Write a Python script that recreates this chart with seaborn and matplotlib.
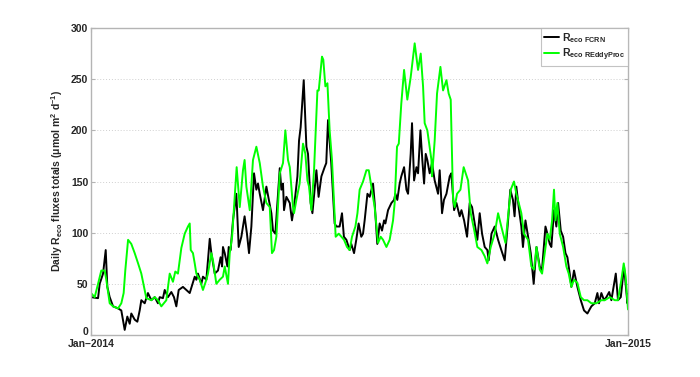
import numpy as np
import pandas as pd
import matplotlib
matplotlib.use("Agg")
import matplotlib.pyplot as plt
import matplotlib.transforms as mtransforms
import seaborn as sns

# ---- data (day offset from 2014-01-01, daily totals) ----
fcrn_day = [0, 4.8, 5.9, 8.2, 10.0, 11.1, 12.7, 15.0, 18.4, 20.6, 22.9, 24.7, 26.3, 27.4, 29.7,
            31.5, 33.1, 34.2, 36.5, 38.7, 41.0, 43.3, 45.5, 46.7, 48.9, 50.1, 52.3, 54.6, 56.4,
            58.0, 59.6, 62.5, 67.1, 70.5, 71.6, 72.7, 75.0, 76.1, 78.4, 80.7, 81.8, 84.1, 86.3,
            88.1, 89.1, 89.7, 90.9, 92.7, 93.6, 94.9, 96.5, 98.8, 100.4, 102.2, 104.4, 106.0,
            107.4, 109.0, 110.8, 112.4, 113.5, 114.7, 116.9, 119.2, 122.6, 123.7, 125.3, 128.3,
            129.4, 130.5, 131.2, 132.8, 135.1, 136.6, 138.0, 140.3, 141.4, 142.5, 144.6, 146.4,
            147.5, 149.3, 150.5, 153.2, 154.7, 156.6, 158.8, 159.9, 161.1, 163.3, 165.6, 166.8,
            169.0, 170.6, 171.9, 173.6, 175.8, 176.9, 178.8, 180.3, 181.9, 183.7, 184.9, 186.0,
            187.9, 189.4, 191.7, 192.8, 194.6, 196.2, 197.8, 199.2, 200.1, 201.9, 204.2, 206.0,
            206.9, 208.2, 209.8, 210.9, 212.8, 214.4, 215.5, 217.3, 218.2, 219.6, 221.2, 222.3,
            223.9, 225.2, 226.4, 227.5, 228.6, 230.2, 231.8, 233.6, 235.9, 237.0, 238.6, 239.9,
            241.6, 243.8, 244.9, 246.8, 248.4, 250.6, 251.8, 253.6, 255.6, 257.4, 259.0, 260.8,
            262.6, 264.2, 265.8, 267.6, 269.4, 270.3, 272.2, 274.4, 276.7, 278.9, 281.2, 283.5,
            285.0, 286.8, 287.9, 289.1, 290.7, 292.5, 293.6, 295.3, 297.1, 298.9, 300.9, 302.8,
            305.0, 306.5, 308.9, 310.2, 311.8, 312.9, 314.7, 316.3, 317.5, 319.3, 320.9, 322.5,
            323.8, 325.4, 326.5, 328.3, 330.6, 332.9, 335.1, 337.4, 340.1, 342.4, 344.2, 345.3,
            346.9, 348.7, 350.3, 352.2, 353.7, 356.7, 358.2, 360.1, 362.3, 364.6, 365.0]
fcrn_val = [37, 36, 50, 60, 83, 47, 37, 28, 26, 24, 5, 18, 11, 21, 15,
            13, 24, 34, 31, 41, 34, 37, 31, 37, 36, 44, 37, 42, 37,
            28, 44, 47, 41, 57, 54, 60, 50, 57, 54, 94, 80, 60, 63,
            76, 67, 86, 80, 67, 86, 83, 112, 138, 86, 96, 116, 99,
            80, 106, 158, 142, 148, 138, 122, 145, 119, 102, 99, 163,
            142, 148, 122, 135, 129, 112, 125, 155, 190, 203, 249, 184,
            177, 129, 119, 161, 135, 155, 164, 168, 210, 168, 109, 106,
            106, 119, 96, 93, 83, 89, 80, 93, 109, 96, 99, 112,
            138, 135, 148, 129, 89, 109, 102, 112, 109, 122, 129, 132,
            138, 132, 148, 155, 164, 142, 138, 177, 207, 151, 164, 158,
            200, 171, 148, 177, 171, 158, 168, 151, 138, 161, 119, 132,
            138, 155, 158, 122, 129, 116, 122, 112, 96, 129, 125, 109,
            93, 119, 99, 86, 83, 73, 99, 106, 93, 83, 73, 112,
            142, 132, 116, 145, 125, 106, 86, 112, 96, 80, 50, 86,
            67, 63, 106, 99, 89, 86, 122, 106, 129, 102, 96, 80,
            76, 60, 47, 63, 47, 34, 24, 21, 28, 31, 41, 31,
            41, 34, 37, 42, 34, 60, 34, 37, 67, 31, 40]

eddy_day = [0, 2.5, 4.8, 7.0, 9.3, 10.4, 12.7, 15.0, 18.4, 20.6, 22.2, 23.3, 25.2, 27.4, 29.7,
            32.0, 34.2, 36.0, 37.6, 41.0, 43.3, 45.5, 47.8, 51.2, 53.5, 55.7, 57.3, 59.1, 61.4,
            63.7, 65.9, 67.1, 67.8, 69.3, 70.5, 71.6, 73.9, 76.1, 78.4, 79.5, 81.8, 82.9, 85.2,
            87.5, 89.7, 90.9, 93.1, 94.3, 95.9, 99.0, 101.1, 103.3, 104.4, 105.6, 107.9, 110.1,
            112.4, 114.7, 116.9, 119.2, 121.5, 123.0, 124.4, 126.0, 128.3, 130.5, 132.1, 133.9,
            135.1, 137.3, 138.0, 139.6, 141.8, 144.1, 145.7, 147.1, 148.2, 149.8, 151.6, 153.9,
            154.8, 157.0, 157.9, 159.3, 160.7, 162.2, 163.8, 166.3, 168.4, 170.2, 172.0, 174.0,
            175.8, 177.4, 179.7, 181.1, 182.6, 184.9, 187.2, 188.8, 190.6, 192.8, 195.1, 196.9,
            198.5, 200.8, 203.0, 205.3, 206.4, 208.0, 209.2, 210.9, 212.8, 215.0, 217.3, 220.0,
            222.3, 224.1, 225.7, 226.8, 228.6, 231.4, 231.8, 233.6, 235.2, 237.5, 239.3, 241.6,
            243.1, 244.5, 246.1, 247.2, 248.8, 251.1, 253.3, 256.3, 258.1, 260.4, 262.6, 265.4,
            267.6, 269.4, 271.7, 274.4, 276.7, 278.9, 281.7, 285.3, 287.5, 289.1, 290.2, 292.5,
            294.3, 297.1, 299.3, 301.1, 302.8, 305.0, 306.6, 308.4, 310.2, 311.8, 313.4, 314.7,
            315.7, 317.0, 318.6, 320.9, 323.1, 324.7, 326.5, 328.3, 330.6, 332.9, 335.1, 337.4,
            340.1, 343.5, 346.9, 349.2, 352.6, 356.0, 358.2, 360.5, 362.1, 363.4, 365.0]
eddy_val = [41, 37, 50, 63, 63, 54, 31, 28, 26, 31, 41, 63, 93, 89, 80,
            70, 60, 47, 36, 34, 37, 34, 28, 34, 60, 52, 62, 60, 85,
            99, 106, 109, 83, 80, 70, 60, 54, 44, 54, 60, 80, 73, 50,
            54, 57, 67, 50, 80, 96, 164, 125, 161, 171, 145, 122, 171,
            184, 168, 145, 129, 125, 80, 83, 96, 158, 168, 200, 171,
            164, 125, 119, 132, 148, 187, 177, 151, 145, 122, 161, 239,
            239, 272, 269, 243, 246, 200, 171, 96, 99, 96, 93, 86,
            83, 96, 106, 119, 142, 150, 161, 161, 145, 125, 90, 96,
            93, 86, 93, 112, 129, 184, 187, 226, 259, 230, 252, 285,
            259, 275, 243, 207, 200, 171, 155, 190, 236, 262, 239, 249,
            236, 230, 132, 125, 138, 142, 164, 151, 119, 103, 86, 83,
            77, 70, 86, 99, 119, 106, 90, 142, 150, 138, 132, 119,
            99, 93, 67, 64, 86, 64, 60, 80, 99, 93, 112, 142,
            112, 129, 99, 86, 67, 60, 47, 54, 51, 37, 34, 34,
            31, 31, 34, 34, 37, 34, 34, 54, 70, 57, 25]

series_labels = [r"R$_{\rm eco\ FCRN}$", r"R$_{\rm eco\ REddyProc}$"]
y_ticks = [0, 50, 100, 150, 200, 250, 300]
x_tick_labels = ["Jan\u20132014", "Jan\u20132015"]

start = pd.Timestamp("2014-01-01")
end = pd.Timestamp("2015-01-01")

df_f = pd.DataFrame({"date": start + pd.to_timedelta(fcrn_day, unit="D"), "val": fcrn_val})
df_e = pd.DataFrame({"date": start + pd.to_timedelta(eddy_day, unit="D"), "val": eddy_val})

sns.set_style("white")
plt.rcParams["font.family"] = ["Liberation Sans", "DejaVu Sans"]
plt.rcParams["font.weight"] = "bold"
plt.rcParams["mathtext.fontset"] = "custom"
plt.rcParams["mathtext.rm"] = "Liberation Sans:bold"
plt.rcParams["mathtext.it"] = "Liberation Sans:bold"
plt.rcParams["mathtext.bf"] = "Liberation Sans:bold"

fig = plt.figure(figsize=(7.0, 3.77), dpi=100)
ax = fig.add_axes([91 / 700, 1 - 335 / 377, (628 - 91) / 700, (335 - 28) / 377])

sns.lineplot(data=df_f, x="date", y="val", ax=ax, color="black", lw=1.4,
             estimator=None, sort=False, label=series_labels[0])
sns.lineplot(data=df_e, x="date", y="val", ax=ax, color="#00ff00", lw=1.4,
             estimator=None, sort=False, label=series_labels[1])

ax.set_xlim(start, end)
ax.set_ylim(0, 300)
ax.set_yticks(y_ticks)
ax.set_yticklabels([str(t) for t in y_ticks])
ax.set_xticks([start, end])
ax.set_xticklabels(x_tick_labels)

ax.yaxis.grid(True, linestyle=(0, (1, 2)), color="#cfcfcf", lw=0.7)
ax.xaxis.grid(False)
ax.set_axisbelow(True)

for s in ax.spines.values():
    s.set_visible(True)
    s.set_color("#b4b4b4")
    s.set_linewidth(1.0)

ax.tick_params(axis="both", direction="in", length=3, color="#b4b4b4",
               labelsize=7.5, pad=2, right=True, top=True, left=True, bottom=True)
ax.tick_params(axis="x", pad=3)
for lab in ax.get_xticklabels() + ax.get_yticklabels():
    lab.set_fontweight("bold")

# lift the "0" label slightly, as in the reference
zero_lab = ax.get_yticklabels()[0]
zero_lab.set_transform(zero_lab.get_transform() +
                       mtransforms.ScaledTranslation(0, 3 / 72, fig.dpi_scale_trans))

ax.set_xlabel("")
ax.set_ylabel(r"Daily R$_{\rm eco}$ fluxes totals ($\mu$mol m$^{2}$ d$^{-1}$)",
              fontsize=7.5, fontweight="bold", labelpad=4)

leg = ax.legend(loc="upper right", borderaxespad=0, fontsize=7.5, frameon=True,
                fancybox=False, handlelength=1.4, handletextpad=0.3,
                borderpad=0.3, labelspacing=0.15)
leg.get_frame().set_edgecolor("#b4b4b4")
leg.get_frame().set_linewidth(0.8)
for t in leg.get_texts():
    t.set_fontweight("bold")

fig.savefig("out.png", dpi=100, facecolor="white")
